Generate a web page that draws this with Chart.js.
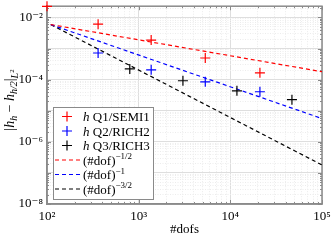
<!DOCTYPE html>
<html><head><meta charset="utf-8">
<script src="https://cdn.jsdelivr.net/npm/chart.js@4"></script>
<style>html,body{margin:0;padding:0;background:#fff;overflow:hidden}#c{display:block}</style>
</head><body>
<canvas id="c" width="332" height="245"></canvas>
<script>
// ---- data ----
const q1Dofs = [100, 361, 1369, 5329, 21025];
const q1Err  = [0.0228, 0.00607, 0.00187, 4.97e-4, 1.65e-4];
const q2Dofs = [361, 1369, 5329, 21025];
const q2Err  = [7.18e-4, 2.06e-4, 8.5e-5, 4.07e-5];
const q3Dofs = [800, 3040, 11800, 47000];
const q3Err  = [2.21e-4, 9.2e-5, 4.38e-5, 2.26e-5];
const refDofs = [110, 100000];
const ref1 = [5.9e-3, 1.8e-4];
const ref2 = [5.9e-3, 5.6e-6];
const ref3 = [5.9e-3, 1.8e-7];
const seriesLabels = ['h Q1/SEMI1', 'h Q2/RICH2', 'h Q3/RICH3', '(#dof)^{-1/2}', '(#dof)^{-1}', '(#dof)^{-3/2}'];
const xTickValues = [100, 1000, 10000, 100000];
const xTickLabels = ['10²', '10³', '10⁴', '10⁵'];
const yTickValues = [1e-8, 1e-6, 1e-4, 1e-2];
const yTickLabels = ['10⁻⁸', '10⁻⁶', '10⁻⁴', '10⁻²'];
const xTitle = '#dofs';

const FONT = "'Liberation Serif', 'DejaVu Serif', serif";
const RED = '#ff0000', BLUE = '#0000ff', BLACK = '#000000';

function segFont(s){ return (s.i ? 'italic ' : '') + s.s + 'px ' + FONT; }
function drawSegs(ctx, segs, x, y, align){
  let w = 0;
  segs.forEach(s => { ctx.font = segFont(s); s.w = ctx.measureText(s.t).width; w += s.w; });
  let cx = align === 'center' ? x - w / 2 : x;
  ctx.textAlign = 'left'; ctx.textBaseline = 'alphabetic';
  segs.forEach(s => { ctx.font = segFont(s); ctx.fillText(s.t, cx, y + (s.dy || 0)); cx += s.w; });
}
function parseLabel(label, size){
  const segs = [];
  let rest = label;
  if (rest.startsWith('h ')) { segs.push({t:'h', s:size, i:1}); rest = rest.slice(1); }
  const m = rest.match(/^(.*)\^\{(.*)\}$/);
  if (m) {
    segs.push({t:m[1], s:size});
    segs.push({t:m[2].replace('-', '\u2212'), s:Math.round(size*0.7), dy:-size*0.42});
  } else segs.push({t:rest, s:size});
  return segs;
}
function makeTicks(min, max){
  const t = []; let e = Math.floor(Math.log10(min) + 1e-9);
  for (;; e++) {
    for (let k = 1; k <= 9; k++) {
      const v = k * Math.pow(10, e);
      if (v < min * (1 - 1e-9)) continue;
      if (v > max * (1 + 1e-9)) return t;
      t.push({value: v, major: k === 1});
    }
  }
}
function labelFor(v, vals, labs){
  for (let i = 0; i < vals.length; i++) if (Math.abs(v / vals[i] - 1) < 1e-6) return labs[i];
  return '';
}
const toPts = (xs, ys) => xs.map((x, i) => ({x: x, y: ys[i]}));

const frame = {
  id: 'frame',
  beforeDatasetsDraw(chart){
    const {ctx, chartArea: a, scales: {x, y}} = chart;
    ctx.save();
    ctx.strokeStyle = '#8a8a8a'; ctx.lineWidth = 1;
    ctx.beginPath();
    x.ticks.forEach(t => {
      const px = Math.round(x.getPixelForValue(t.value)) + 0.5, L = t.major ? 4 : 2;
      ctx.moveTo(px, a.bottom); ctx.lineTo(px, a.bottom - L);
      ctx.moveTo(px, a.top); ctx.lineTo(px, a.top + L);
    });
    y.ticks.forEach(t => {
      const py = Math.round(y.getPixelForValue(t.value)) + 0.5, L = t.major ? 4 : 2;
      ctx.moveTo(a.left, py); ctx.lineTo(a.left + L, py);
      ctx.moveTo(a.right, py); ctx.lineTo(a.right - L, py);
    });
    ctx.stroke();
    ctx.lineWidth = 1.5;
    ctx.strokeRect(a.left, a.top, a.right - a.left, a.bottom - a.top);
    ctx.restore();
  },
  afterDraw(chart){
    const {ctx, chartArea: a} = chart;
    ctx.save();
    ctx.fillStyle = '#000';
    // x title
    drawSegs(ctx, [{t:xTitle, s:13}], (a.left + a.right) / 2, 233, 'center');
    // y title
    ctx.translate(14, 100);
    ctx.rotate(-Math.PI / 2);
    drawSegs(ctx, [
      {t:'|', s:14}, {t:'h', s:14, i:1}, {t:'h', s:10, i:1, dy:3},
      {t:' \u2212 ', s:14}, {t:'h', s:14, i:1}, {t:'h/2', s:10, i:1, dy:3},
      {t:'|', s:14}, {t:'L', s:10, i:1, dy:4}, {t:'2', s:7, dy:0}
    ], 0, 0, 'center');
    ctx.restore();

    // legend
    ctx.save();
    const bx = 53, by = 107, bw = 100, bh = 92;
    ctx.fillStyle = '#fff';
    ctx.fillRect(bx, by, bw, bh);
    ctx.strokeStyle = '#8a8a8a'; ctx.lineWidth = 1;
    ctx.strokeRect(bx + 0.5, by + 0.5, bw, bh);
    chart.data.datasets.forEach((ds, i) => {
      const cy = 116.5 + i * 14.5;
      ctx.strokeStyle = ds.borderColor;
      if (ds.showLine) {
        ctx.lineWidth = 1.2; ctx.setLineDash(ds.borderDash);
        ctx.beginPath(); ctx.moveTo(55, cy); ctx.lineTo(81, cy); ctx.stroke();
        ctx.setLineDash([]);
      } else {
        ctx.lineWidth = 1.2;
        ctx.beginPath(); ctx.moveTo(62, cy); ctx.lineTo(72, cy); ctx.moveTo(67, cy - 5); ctx.lineTo(67, cy + 5); ctx.stroke();
      }
      ctx.fillStyle = '#000';
      drawSegs(ctx, parseLabel(ds.label, 13), 83, cy + 4.5, 'left');
    });
    ctx.restore();
  }
};

const markerDs = (label, xs, ys, c) => ({
  label: label, data: toPts(xs, ys), showLine: false, pointStyle: 'cross', pointRadius: 5,
  pointBorderWidth: 1.2, borderColor: c, backgroundColor: c, clip: false
});
const lineDs = (label, xs, ys, c) => ({
  label: label, data: toPts(xs, ys), showLine: true, borderColor: c, backgroundColor: c,
  borderDash: [4, 3], borderWidth: 1.2, pointRadius: 0, fill: false
});

new Chart(document.getElementById('c'), {
  type: 'scatter',
  data: {
    datasets: [
      markerDs(seriesLabels[0], q1Dofs, q1Err, RED),
      markerDs(seriesLabels[1], q2Dofs, q2Err, BLUE),
      markerDs(seriesLabels[2], q3Dofs, q3Err, BLACK),
      lineDs(seriesLabels[3], refDofs, ref1, RED),
      lineDs(seriesLabels[4], refDofs, ref2, BLUE),
      lineDs(seriesLabels[5], refDofs, ref3, BLACK)
    ]
  },
  options: {
    responsive: false, animation: false, devicePixelRatio: 1,
    layout: {padding: {top: 5, right: 10, left: 0, bottom: 0}},
    plugins: {legend: {display: false}, tooltip: {enabled: false}},
    scales: {
      x: {
        type: 'logarithmic', min: 100, max: 1e5, position: 'bottom',
        afterBuildTicks: s => { s.ticks = makeTicks(100, 1e5); },
        afterFit: s => { s.height = 41; s.paddingLeft = 0; s.paddingRight = 0; },
        ticks: {autoSkip: false, maxRotation: 0, padding: 5, color: '#000',
          font: {family: FONT, size: 13},
          callback: v => labelFor(v, xTickValues, xTickLabels)},
        grid: {drawTicks: false, lineWidth: 1,
          color: c => (c.tick && c.tick.major) ? '#dedede' : '#ececec'},
        border: {display: true, color: '#8a8a8a', width: 1.5,
          dash: c => (c.tick && !c.tick.major) ? [1, 1.5] : []}
      },
      y: {
        type: 'logarithmic', min: 1e-8, max: 0.023,
        afterBuildTicks: s => { s.ticks = makeTicks(1e-8, 0.023); },
        afterFit: s => { s.width = 47; s.paddingTop = 0; s.paddingBottom = 0; },
        ticks: {autoSkip: false, padding: 4, color: '#000',
          font: {family: FONT, size: 13},
          callback: v => labelFor(v, yTickValues, yTickLabels)},
        grid: {drawTicks: false, lineWidth: 1,
          color: c => (c.tick && c.tick.major) ? '#dedede' : '#ececec'},
        border: {display: true, color: '#8a8a8a', width: 1.5,
          dash: c => (c.tick && !c.tick.major) ? [1, 1.5] : []}
      }
    }
  },
  plugins: [frame]
});
</script>
</body></html>
